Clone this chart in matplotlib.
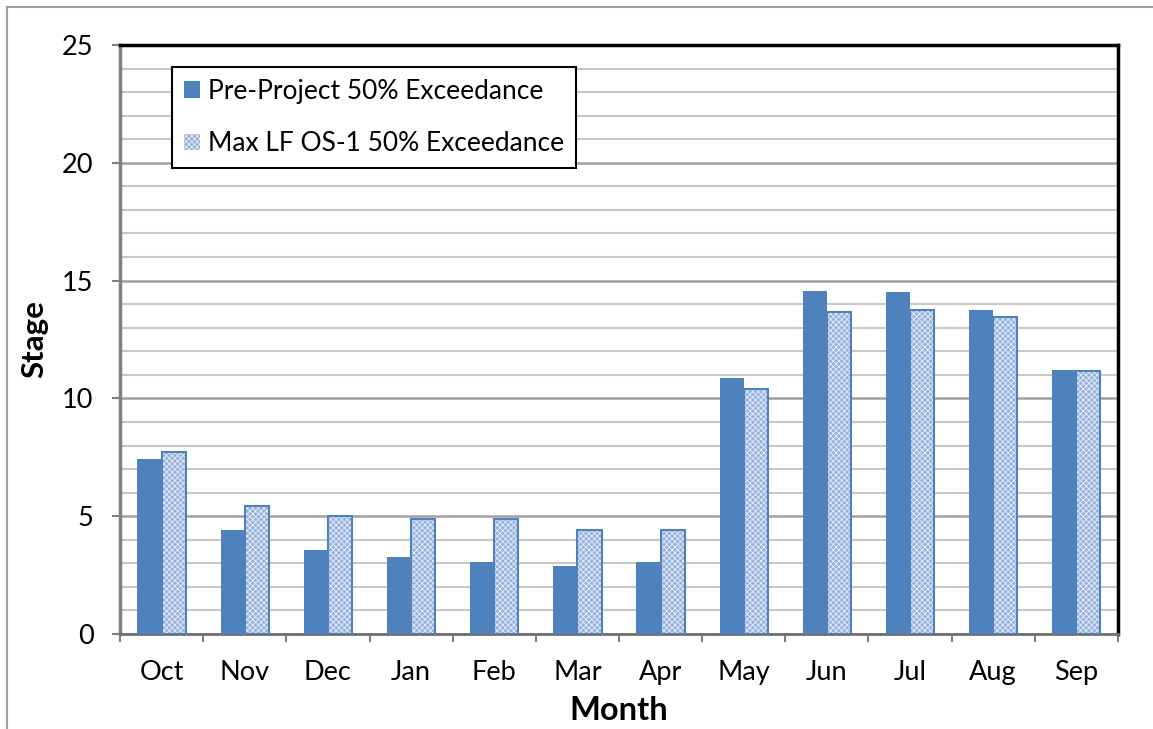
import numpy as np
import matplotlib.pyplot as plt
from matplotlib.lines import Line2D
from matplotlib.patches import Patch

plt.rcParams.update({
    "font.family": ["Lato", "DejaVu Sans"],
    "font.size": 19,
    "hatch.linewidth": 0.6,
})

# ===============================
# Dati
# ===============================
months = ["Oct", "Nov", "Dec", "Jan", "Feb", "Mar", "Apr", "May", "Jun", "Jul", "Aug", "Sep"]
pre_project = [7.43, 4.41, 3.57, 3.27, 3.06, 2.90, 3.06, 10.87, 14.55, 14.50, 13.75, 11.20]
max_lf_os1 = [7.72, 5.43, 4.99, 4.90, 4.90, 4.42, 4.42, 10.38, 13.68, 13.75, 13.44, 11.15]

blue = "#4F81BD"
light = "#97b2dc"

fig = plt.figure(figsize=(11.53, 7.29), dpi=100)
ax = fig.add_axes([0.1041, 0.1303, 0.8655, 0.808])

x = np.arange(len(months))
w = 0.29

# barre
ax.bar(x - w / 2, pre_project, w, color=blue, linewidth=0, zorder=3)
ax.bar(x + w / 2, max_lf_os1, w, color=light, edgecolor="#e8eef8", hatch="xxxxxx",
       linewidth=0, zorder=3)
ax.bar(x + w / 2, max_lf_os1, w, fill=False, edgecolor=blue, linewidth=1.5, zorder=4)

# assi
ax.set_xlim(-0.5, len(months) - 0.5)
ax.set_ylim(0, 25)
ax.set_yticks(np.arange(0, 26, 5))
ax.set_yticks(np.arange(0, 26, 1), minor=True)
ax.grid(axis="y", which="minor", color="#c8c8c8", linewidth=1.5, zorder=0)
ax.grid(axis="y", which="major", color="#a0a0a0", linewidth=1.8, zorder=0)
ax.tick_params(axis="y", which="major", length=6, width=1.5, color="#808080", pad=13, labelsize=19.5)
ax.tick_params(axis="y", which="minor", length=0)

ax.set_xticks(np.arange(-0.5, len(months), 1))
ax.set_xticklabels([])
ax.set_xticks(x, minor=True)
ax.set_xticklabels(months, minor=True)
ax.tick_params(axis="x", which="major", length=6, width=1.5, color="#808080")
ax.tick_params(axis="x", which="minor", length=0, pad=19, labelsize=19.5)

for side in ["top", "right"]:
    ax.spines[side].set_color("black")
    ax.spines[side].set_linewidth(2.5)
ax.spines["left"].set_color("#808080")
ax.spines["left"].set_linewidth(2.5)
ax.spines["bottom"].set_color("#707070")
ax.spines["bottom"].set_linewidth(2)

fig.text(0.030, 0.5 * (0.1303 + 0.9383), "Stage", rotation=90, ha="center", va="center",
         fontsize=22.5, fontweight="bold")
fig.text(0.537, 0.026, "Month", ha="center", va="center", fontsize=23.5, fontweight="bold")

# legenda
handles = [
    Patch(facecolor=blue, linewidth=0),
    Patch(facecolor=light, edgecolor="#e8eef8", hatch="xxxxxx", linewidth=0),
]
leg = ax.legend(handles, ["Pre-Project 50% Exceedance", "Max LF OS-1 50% Exceedance"],
                loc="upper left", bbox_to_anchor=(0.052, 0.963), fontsize=19,
                frameon=True, fancybox=False, framealpha=1, edgecolor="black",
                handlelength=0.6, handleheight=0.6, handletextpad=0.3,
                labelspacing=1.05, borderpad=0.45, borderaxespad=0)
leg.get_frame().set_linewidth(1.5)

# bordo esterno
fig.add_artist(Line2D([7 / 1153, 7 / 1153], [0, 1 - 7 / 729], color="#a0a0a0", linewidth=1.5))
fig.add_artist(Line2D([7 / 1153, 1], [1 - 7 / 729, 1 - 7 / 729], color="#a0a0a0", linewidth=1.5))

plt.savefig("out.png", dpi=100)
plt.close()
